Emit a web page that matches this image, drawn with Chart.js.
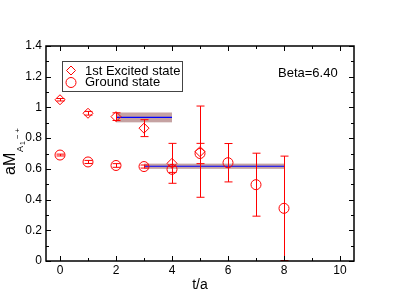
<!DOCTYPE html>
<html>
<head>
<meta charset="utf-8">
<script src="https://cdn.jsdelivr.net/npm/chart.js@4/dist/chart.umd.min.js"></script>
<style>
  html, body { margin: 0; padding: 0; background: #fff; }
  #wrap { width: 399px; height: 308px; }
</style>
</head>
<body>
<div id="wrap"><canvas id="chart" width="399" height="308"></canvas></div>
<script>
// data
const seriesLabels = ['1st Excited state', 'Ground state'];
const excitedT = [0, 1, 2, 3, 4, 5];
const excitedM = [1.05, 0.962, 0.94, 0.865, 0.636, 0.712];
const excitedErr = [0.008, 0.012, 0.025, 0.055, 0.13, 0.297];
const groundT = [0, 1, 2, 3, 4, 5, 6, 7, 8];
const groundM = [0.69, 0.645, 0.622, 0.615, 0.597, 0.70, 0.64, 0.497, 0.343];
const groundErr = [0.006, 0.01, 0.012, 0.01, 0.02, 0.066, 0.125, 0.205, 0.34];
// fit plateaus: [from t, to t, value, error]
const excitedFit = [2, 4, 0.935, 0.032];
const groundFit = [3, 8, 0.617, 0.017];
const xTicks = [0, 2, 4, 6, 8, 10];
const xMinorTicks = [1, 3, 5, 7, 9];
const yTicks = [0, 0.2, 0.4, 0.6, 0.8, 1.0, 1.2, 1.4];
const yMinorTicks = [0.1, 0.3, 0.5, 0.7, 0.9, 1.1, 1.3];
const betaText = 'Beta=6.40';
const xTitle = 't/a';

const FONT = 'Arial, "Liberation Sans", Helvetica, sans-serif';

/* draws error bars, fit bands, frame, inward ticks, legend and labels */
const plotExtras = {
    id: 'plotExtras',
    beforeDatasetsDraw(chart) {
        const ctx = chart.ctx;
        const xs = chart.scales.x, ys = chart.scales.y;
        [excitedFit, groundFit].forEach((f) => {
            const x0 = xs.getPixelForValue(f[0]), x1 = xs.getPixelForValue(f[1]);
            const yTop = ys.getPixelForValue(f[2] + f[3]), yBot = ys.getPixelForValue(f[2] - f[3]);
            const yMid = ys.getPixelForValue(f[2]);
            ctx.save();
            ctx.fillStyle = 'rgba(140,70,70,0.5)';
            ctx.fillRect(x0, yTop, x1 - x0, yBot - yTop);
            ctx.strokeStyle = '#0000ff';
            ctx.lineWidth = 1.2;
            ctx.beginPath();
            ctx.moveTo(x0, yMid);
            ctx.lineTo(x1, yMid);
            ctx.stroke();
            ctx.restore();
        });
        // error bars
        chart.data.datasets.forEach((ds) => {
            ctx.save();
            ctx.strokeStyle = 'red';
            ctx.lineWidth = 1;
            ds.data.forEach((p, i) => {
                const e = ds.errors[i];
                const px = Math.round(xs.getPixelForValue(p.x)) + 0.5;
                const yHi = ys.getPixelForValue(p.y + e);
                const yLo = ys.getPixelForValue(Math.max(0, p.y - e));
                ctx.beginPath();
                ctx.moveTo(px, yHi);
                ctx.lineTo(px, yLo);
                ctx.moveTo(px - 4, yHi);
                ctx.lineTo(px + 4, yHi);
                ctx.moveTo(px - 4, yLo);
                ctx.lineTo(px + 4, yLo);
                ctx.stroke();
            });
            ctx.restore();
        });
    },
    afterDraw(chart) {
        const ctx = chart.ctx;
        const a = chart.chartArea;
        const xs = chart.scales.x, ys = chart.scales.y;
        ctx.save();
        ctx.strokeStyle = '#000';
        ctx.lineWidth = 1.5;
        ctx.strokeRect(a.left, a.top, a.right - a.left, a.bottom - a.top);

        // inward ticks on all four sides
        ctx.lineWidth = 1;
        ctx.beginPath();
        const xTick = (v, len) => {
            const px = Math.round(xs.getPixelForValue(v)) + 0.5;
            ctx.moveTo(px, a.bottom); ctx.lineTo(px, a.bottom - len);
            ctx.moveTo(px, a.top); ctx.lineTo(px, a.top + len);
        };
        const yTick = (v, len) => {
            const py = Math.round(ys.getPixelForValue(v)) + 0.5;
            ctx.moveTo(a.left, py); ctx.lineTo(a.left + len, py);
            ctx.moveTo(a.right, py); ctx.lineTo(a.right - len, py);
        };
        xTicks.forEach(v => xTick(v, 5));
        xMinorTicks.forEach(v => xTick(v, 3));
        yTicks.forEach(v => yTick(v, 5));
        yMinorTicks.forEach(v => yTick(v, 3));
        ctx.stroke();

        // legend box
        const lx = 62, ly = 61, lw = 120, lh = 30;
        ctx.strokeStyle = '#444';
        ctx.lineWidth = 1;
        ctx.strokeRect(lx + 0.5, ly + 0.5, lw, lh);
        ctx.strokeStyle = 'red';
        ctx.beginPath();
        ctx.moveTo(71, 66); ctx.lineTo(75.5, 70.5); ctx.lineTo(71, 75); ctx.lineTo(66.5, 70.5); ctx.closePath();
        ctx.stroke();
        ctx.beginPath();
        ctx.arc(71, 82.5, 5, 0, Math.PI * 2);
        ctx.stroke();
        ctx.fillStyle = '#000';
        ctx.font = '13px ' + FONT;
        ctx.textBaseline = 'middle';
        ctx.textAlign = 'left';
        ctx.fillText(seriesLabels[0], 85, 71);
        ctx.fillText(seriesLabels[1], 85, 82.5);

        ctx.fillText(betaText, 278, 73);

        // axis titles
        ctx.font = '14px ' + FONT;
        ctx.textAlign = 'center';
        ctx.textBaseline = 'alphabetic';
        ctx.fillText(xTitle, (a.left + a.right) / 2, 289);

        ctx.translate(15, 175);
        ctx.rotate(-Math.PI / 2);
        ctx.textAlign = 'left';
        ctx.font = '16px ' + FONT;
        ctx.fillText('aM', 0, 0);
        ctx.font = '9px ' + FONT;
        ctx.fillText('A', 23, 8);
        ctx.font = '7px ' + FONT;
        ctx.fillText('1', 30, 10);
        ctx.font = '8px ' + FONT;
        ctx.fillText('\u2212\u2009+', 36, 5);
        ctx.restore();
    }
};

const ctx = document.getElementById('chart').getContext('2d');
const chart = new Chart(ctx, {
    type: 'scatter',
    data: {
        datasets: [
            {
                label: seriesLabels[0],
                data: excitedT.map((t, i) => ({ x: t, y: excitedM[i] })),
                errors: excitedErr,
                pointStyle: 'rectRot',
                pointRadius: 5,
                borderColor: 'red',
                backgroundColor: 'rgba(0,0,0,0)',
                borderWidth: 1
            },
            {
                label: seriesLabels[1],
                data: groundT.map((t, i) => ({ x: t, y: groundM[i] })),
                errors: groundErr,
                pointStyle: 'circle',
                pointRadius: 5,
                borderColor: 'red',
                backgroundColor: 'rgba(0,0,0,0)',
                borderWidth: 1
            }
        ]
    },
    options: {
        responsive: false,
        animation: false,
        devicePixelRatio: 1,
        layout: { padding: { top: 46, right: 45, left: 0, bottom: 0 } },
        plugins: { legend: { display: false }, tooltip: { enabled: false } },
        scales: {
            x: {
                type: 'linear',
                min: -0.5,
                max: 10.5,
                afterBuildTicks: (s) => { s.ticks = xTicks.map(v => ({ value: v })); },
                afterFit: (s) => { s.height = 47; },
                grid: { display: false, drawTicks: false },
                border: { display: false },
                ticks: { padding: 2, color: '#000', font: { family: FONT, size: 12 } }
            },
            y: {
                type: 'linear',
                min: 0,
                max: 1.4,
                afterBuildTicks: (s) => { s.ticks = yTicks.map(v => ({ value: v })); },
                afterFit: (s) => { s.width = 46; },
                grid: { display: false, drawTicks: false },
                border: { display: false },
                ticks: {
                    padding: 4,
                    color: '#000',
                    font: { family: FONT, size: 12 },
                    callback: (v) => String(Math.round(v * 10) / 10)
                }
            }
        }
    },
    plugins: [plotExtras]
});
</script>
</body>
</html>
